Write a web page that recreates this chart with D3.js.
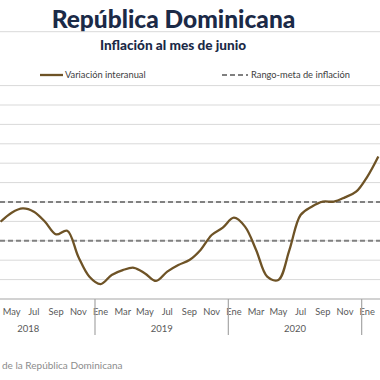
<!DOCTYPE html>
<html>
<head>
<meta charset="utf-8">
<script src="https://cdn.jsdelivr.net/npm/d3@7"></script>
<style>
  html, body { margin: 0; padding: 0; background: #fff; overflow: hidden; }
  svg { display: block; }
</style>
</head>
<body>
<div id="chart"></div>
<script>
// ---- data ----
const title = "República Dominicana";
const subtitle = "Inflación al mes de junio";
const seriesName = "Variación interanual";
const rangeName = "Rango-meta de inflación";
const source = "de la República Dominicana";
const monthNames = ["Ene","Feb","Mar","Abr","May","Jun","Jul","Ago","Sep","Oct","Nov","Dic"];
const years = [2018, 2019, 2020, 2021];
// months indexed from Jan 2018 (0) ; data visible Apr 2018 .. Feb 2021
const monthIndex = [3,4,5,6,7,8,9,10,11,12,13,14,15,16,17,18,19,20,21,22,23,24,25,26,27,28,29,30,31,32,33,34,35,36,37];
const inflation = [3.98,4.45,4.67,4.50,3.98,3.33,3.52,2.18,1.15,0.77,1.24,1.49,1.61,1.32,0.93,1.41,1.75,2.01,2.53,3.30,3.68,4.19,3.73,2.53,1.15,0.98,2.53,4.33,4.76,5.02,5.02,5.24,5.53,6.30,7.35];
const targetLow = 3;
const targetHigh = 5;
const yTicks = [0,1,2,3,4,5,6,7,8,9,10,11];

// ---- layout ----
const W = 380, H = 380;
const FONT = "Lato, 'Open Sans', sans-serif";
const svg = d3.select("#chart").append("svg").attr("width", W).attr("height", H);

const totalMonths = years.length * 12;
const step = 133.333 / 12;
const x0 = 95 - 12 * step;
const x = d3.scaleBand().domain(d3.range(totalMonths)).range([x0, x0 + totalMonths * step]).padding(0);
const xc = i => x(i) + x.bandwidth() / 2;
const y = d3.scaleLinear().domain([0, 11]).range([299, 85.6]);

// title
svg.append("text").attr("x", 173.5).attr("y", 27.5).attr("text-anchor", "middle")
  .attr("font-family", FONT).attr("font-weight", 900)
  .attr("font-size", 24.5).attr("fill", "#1b2a47").text(title);
svg.append("line").attr("x1", 0).attr("x2", W).attr("y1", 31.7).attr("y2", 31.7)
  .attr("stroke", "#d9d9d9").attr("stroke-width", 1);
svg.append("text").attr("x", 173).attr("y", 50).attr("text-anchor", "middle")
  .attr("font-family", FONT).attr("font-weight", 900)
  .attr("font-size", 13.6).attr("fill", "#1b2a47").text(subtitle);

// gridlines
svg.append("g").selectAll("line").data(yTicks.filter(d => d > 0)).join("line")
  .attr("x1", 0).attr("x2", W).attr("y1", d => y(d)).attr("y2", d => y(d))
  .attr("stroke", "#d9d9d9").attr("stroke-width", 1);

// target range
svg.append("g").selectAll("line").data([targetLow, targetHigh]).join("line")
  .attr("x1", 0).attr("x2", W).attr("y1", d => y(d)).attr("y2", d => y(d))
  .attr("stroke", "#808080").attr("stroke-width", 2).attr("stroke-dasharray", "5,3");

// x axis line
svg.append("line").attr("x1", 0).attr("x2", W).attr("y1", y(0)).attr("y2", y(0))
  .attr("stroke", "#a6a6a6").attr("stroke-width", 1.2);

// month labels (only those that fall inside the visible frame)
const labelMonths = d3.range(totalMonths).filter(i => i % 2 === 0 && xc(i) > 8 && xc(i) < W - 8);
svg.append("g").selectAll("text").data(labelMonths).join("text")
  .attr("x", d => xc(d)).attr("y", 315).attr("text-anchor", "middle")
  .attr("font-family", FONT).attr("font-size", 9.3)
  .attr("fill", "#595959").text(d => monthNames[d % 12]);

// year separators and labels
svg.append("g").selectAll("line").data(years.map((yr, k) => k * 12)).join("line")
  .attr("x1", d => x(d)).attr("x2", d => x(d)).attr("y1", y(0)).attr("y2", 335)
  .attr("stroke", "#a6a6a6").attr("stroke-width", 1.2);
const yearCenters = years.map((yr, k) => [yr, x(k * 12) + 6 * step]).filter(d => d[1] > 0 && d[1] < W);
svg.append("g").selectAll("text").data(yearCenters).join("text")
  .attr("x", d => d[1]).attr("y", 332).attr("text-anchor", "middle")
  .attr("font-family", FONT).attr("font-size", 9.5)
  .attr("fill", "#595959").text(d => d[0]);

// series line
const line = d3.line().x(d => xc(d[0])).y(d => y(d[1])).curve(d3.curveCatmullRom.alpha(0.5));
svg.append("path").datum(monthIndex.map((m, k) => [m, inflation[k]]))
  .attr("d", line).attr("fill", "none").attr("stroke", "#6e5326").attr("stroke-width", 2.3);

// legend
svg.append("line").attr("x1", 40).attr("x2", 63).attr("y1", 75).attr("y2", 75)
  .attr("stroke", "#6e5326").attr("stroke-width", 2.3);
svg.append("text").attr("x", 65).attr("y", 78)
  .attr("font-family", FONT).attr("font-size", 9.3)
  .attr("fill", "#404040").text(seriesName);
svg.append("line").attr("x1", 222).attr("x2", 248).attr("y1", 75).attr("y2", 75)
  .attr("stroke", "#808080").attr("stroke-width", 2).attr("stroke-dasharray", "5,3");
svg.append("text").attr("x", 251).attr("y", 78)
  .attr("font-family", FONT).attr("font-size", 9.3)
  .attr("fill", "#404040").text(rangeName);

// source
svg.append("text").attr("x", 2).attr("y", 369)
  .attr("font-family", FONT).attr("font-size", 10)
  .attr("fill", "#8c8c8c").text(source);
</script>
</body>
</html>
